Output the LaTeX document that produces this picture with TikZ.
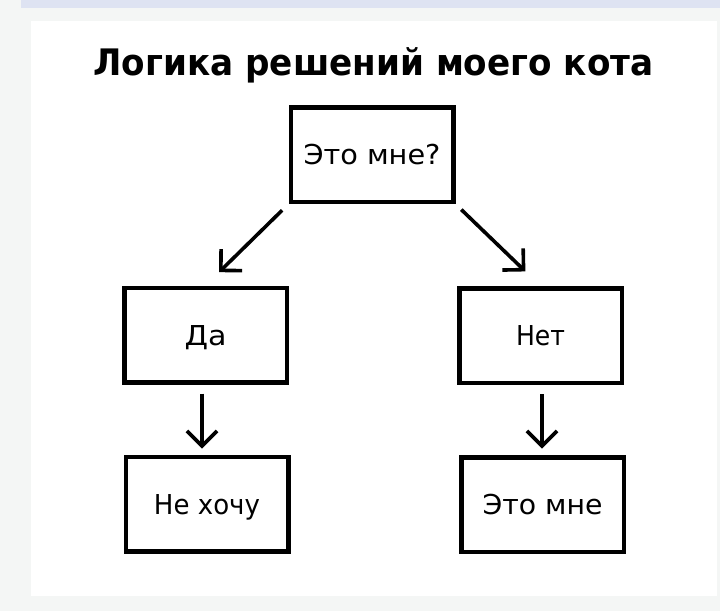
\documentclass[tikz,border=0pt]{standalone}
\usepackage{fontspec}
\usepackage{graphicx}
\setmainfont{DejaVu Sans}
\usetikzlibrary{arrows.meta}
\definecolor{bgc}{HTML}{F4F6F5}
\definecolor{bandc}{HTML}{DEE3F2}
\begin{document}
\begin{tikzpicture}[x=1pt,y=-1pt,
  box/.style={draw, line width=4.5pt, minimum width=162.5pt, minimum height=94.5pt,
    inner sep=0pt, text height=20pt, text depth=0pt, font=\fontsize{27.4}{30}\selectfont},
  arr/.style={line width=3.6pt, -{Straight Barb[length=15pt,width=30pt]}}]
\useasboundingbox (0,0) rectangle (720,611);
\fill[bgc] (0,0) rectangle (720,611);
\fill[bandc] (21,0) rectangle (720,8);
\fill[white] (31,21) rectangle (717,596);
\node[anchor=base, inner sep=0pt] (title) at (373.5,75)
  {\fontsize{36.5}{40}\selectfont\bfseries\resizebox{560pt}{\height}{Логика решений моего кота}};
\node[box] (q) at (372,154.5) {\resizebox{137pt}{\height}{Это мне?}};
\node[box] (da) at (205.5,335) {\resizebox{42pt}{\height}{Да}};
\node[box] (net) at (540.5,335.5) {\resizebox{49pt}{\height}{Нет}};
\node[box] (no) at (207,504) {\resizebox{106pt}{\height}{Не хочу}};
\node[box] (me) at (542.5,504.5) {\resizebox{120pt}{\height}{Это мне}};
\draw[arr, shorten <=9pt, shorten >=19pt] (q.south west) -- (da.north);
\draw[arr, shorten <=8pt, shorten >=21pt] (q.south east) -- (net.north);
\draw[arr, shorten <=9pt, shorten >=6pt] ([xshift=-3.5pt]da.south) -- ([xshift=-3.5pt]da.south |- no.north);
\draw[arr, shorten <=9pt, shorten >=6.5pt] ([xshift=1.5pt]net.south) -- ([xshift=1.5pt]net.south |- me.north);
\end{tikzpicture}
\end{document}
